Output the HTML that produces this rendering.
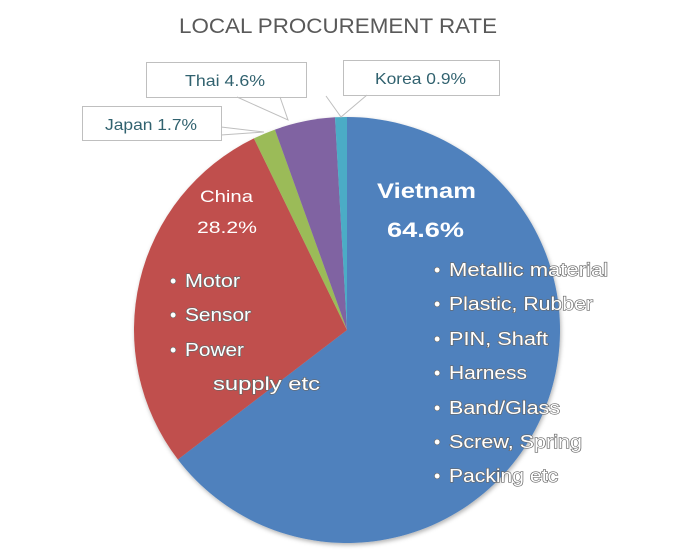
<!DOCTYPE html>
<html><head><meta charset="utf-8"><style>
html,body{margin:0;padding:0;background:#fff;}
svg{display:block;font-family:"Liberation Sans","DejaVu Sans",sans-serif;}
.o{fill:#fff;stroke:#666;stroke-width:1.2;paint-order:stroke;font-size:18px;}
.l{fill:#31626f;font-size:16px;}
</style></head><body>
<svg width="700" height="560" viewBox="0 0 700 560">
<defs><filter id="sh" x="-10%" y="-10%" width="120%" height="120%"><feDropShadow dx="1" dy="2" stdDeviation="2" flood-color="#000" flood-opacity="0.3"/></filter></defs>
<text x="179" y="33" font-size="21" fill="#595959" textLength="318" lengthAdjust="spacingAndGlyphs">LOCAL PROCUREMENT RATE</text>
<g filter="url(#sh)">
<path d="M347,330 L347,117 A213,213 0 1 1 177.9,459.5 Z" fill="#4f81bd"/>
<path d="M347,330 L177.9,459.5 A213,213 0 0 1 253.9,138.4 Z" fill="#c0504d"/>
<path d="M347,330 L253.9,138.4 A213,213 0 0 1 274.9,129.6 Z" fill="#9bbb59"/>
<path d="M347,330 L274.9,129.6 A213,213 0 0 1 335,117.3 Z" fill="#8064a2"/>
<path d="M347,330 L335,117.3 A213,213 0 0 1 347,117 Z" fill="#4bacc6"/>
</g>
<g fill="#fff" stroke="#bfbfbf" stroke-width="1">
<rect x="146.5" y="62.5" width="160" height="35"/>
<rect x="343.5" y="60.5" width="156" height="35"/>
<rect x="82.5" y="106.5" width="139" height="34"/>
</g>
<g stroke="#bfbfbf" stroke-width="1" fill="none">
<polyline points="237,97 288,120 280,97"/>
<polyline points="367,95 341,117 326,96"/>
<polyline points="221,127 264,132 221,135"/>
</g>
<text class="l" x="185" y="86" textLength="80" lengthAdjust="spacingAndGlyphs">Thai 4.6%</text>
<text class="l" x="375" y="84" textLength="91" lengthAdjust="spacingAndGlyphs">Korea 0.9%</text>
<text class="l" x="105" y="130" textLength="92" lengthAdjust="spacingAndGlyphs">Japan 1.7%</text>
<text x="377" y="198" font-size="21" font-weight="bold" fill="#fff" textLength="99" lengthAdjust="spacingAndGlyphs">Vietnam</text>
<text x="387" y="237" font-size="21" font-weight="bold" fill="#fff" textLength="77" lengthAdjust="spacingAndGlyphs">64.6%</text>
<text x="200" y="202" font-size="17" fill="#fff" textLength="53" lengthAdjust="spacingAndGlyphs">China</text>
<text x="197" y="233" font-size="17" fill="#fff" textLength="60" lengthAdjust="spacingAndGlyphs">28.2%</text>
<g class="o">
<text x="434" y="276">•</text><text x="449" y="276" textLength="159" lengthAdjust="spacingAndGlyphs">Metallic material</text>
<text x="434" y="310">•</text><text x="449" y="310" textLength="144" lengthAdjust="spacingAndGlyphs">Plastic, Rubber</text>
<text x="434" y="345">•</text><text x="449" y="345" textLength="99" lengthAdjust="spacingAndGlyphs">PIN, Shaft</text>
<text x="434" y="379">•</text><text x="449" y="379" textLength="78" lengthAdjust="spacingAndGlyphs">Harness</text>
<text x="434" y="414">•</text><text x="449" y="414" textLength="111" lengthAdjust="spacingAndGlyphs">Band/Glass</text>
<text x="434" y="448">•</text><text x="449" y="448" textLength="133" lengthAdjust="spacingAndGlyphs">Screw, Spring</text>
<text x="434" y="482">•</text><text x="449" y="482" textLength="109" lengthAdjust="spacingAndGlyphs">Packing etc</text>
<text x="170" y="287">•</text><text x="185" y="287" textLength="55" lengthAdjust="spacingAndGlyphs">Motor</text>
<text x="170" y="321">•</text><text x="185" y="321" textLength="66" lengthAdjust="spacingAndGlyphs">Sensor</text>
<text x="170" y="356">•</text><text x="185" y="356" textLength="59" lengthAdjust="spacingAndGlyphs">Power</text>
<text x="213" y="390" textLength="107" lengthAdjust="spacingAndGlyphs">supply  etc</text>
</g>
</svg>
</body></html>
